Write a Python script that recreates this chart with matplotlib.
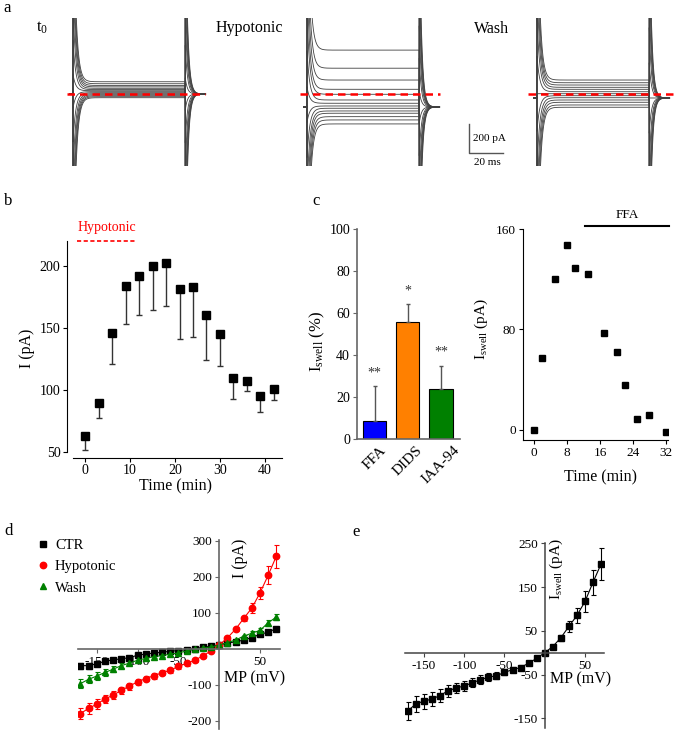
import numpy as np
import matplotlib
matplotlib.use('Agg')
import matplotlib.pyplot as plt
from matplotlib.lines import Line2D

plt.rcParams['font.family'] = ['Liberation Serif', 'DejaVu Serif']
plt.rcParams['mathtext.fontset'] = 'custom'
plt.rcParams['mathtext.rm'] = 'Liberation Serif'
plt.rcParams['mathtext.it'] = 'Liberation Serif:italic'
plt.rcParams['mathtext.bf'] = 'Liberation Serif:bold'
plt.rcParams['axes.unicode_minus'] = False

W, H = 675, 732

# ---------------- data ----------------
# panel a: steady-state current of each sweep (pA, relative to dashed zero line)
t0_levels = [86, 72, 60, 50, 40, 31, 23, 16, 9, 2, -5, -12, -19, -26]
hypo_levels = [308, 181, 98, 33, -2, -42, -65, -84, -100, -119, -135, -159, -182, -210]
wash_levels = [98, 79, 63, 47, 33, 16, 2, -12, -26, -42, -58, -77, -93]
holding_pa = [0, -91, -28]
step_ms = 66
group_titles = ['t$_0$', 'Hypotonic', 'Wash']

# panel b
b_time = [0, 3, 6, 9, 12, 15, 18, 21, 24, 27, 30, 33, 36, 39, 42]
b_current = [63, 89.5, 146, 184, 192, 199.5, 202.5, 181, 183, 160, 145, 110, 107.5, 95.5, 101]
b_err = [11, 12, 25, 31, 32, 35, 35, 40, 40, 36, 26, 17, 8, 13, 9]

# panel c (left)
c_drugs = ['FFA', 'DIDS', 'IAA-94']
c_pct = [8.9, 55.9, 23.8]
c_err = [16.5, 8.5, 11.2]
c_sig = ['**', '*', '**']
c_colors = ['#0000FF', '#FF8000', '#008000']

# panel c (right)
c_time = [0, 2, 5, 8, 10, 13, 17, 20, 22, 25, 28, 32]
c_iswell = [0, 57, 120, 147, 129, 124, 77.5, 62, 36, 9, 12, -2]
ffa_span = [12.4, 32.7]

# panel d
mp = list(range(-170, 71, 10))
ctr = [-47, -47, -42, -35, -31, -28, -25, -18, -15, -12, -10, -7, -5, -3, 0, 4, 7, 10, 16, 19, 24, 31, 40, 46, 56]
ctr_err = [8, 8, 7, 6, 5, 5, 4, 4, 3, 3, 3, 2, 2, 2, 2, 2, 2, 2, 2, 2, 3, 3, 3, 4, 4]
hypo = [-180, -166, -154, -140, -129, -116, -104, -92, -83, -75, -67, -60, -49, -41, -32, -20, -6, 10, 30, 54, 84, 113, 155, 204, 257]
hypo_err = [16, 14, 13, 12, 11, 10, 10, 9, 8, 8, 7, 7, 6, 6, 5, 5, 4, 4, 4, 5, 7, 13, 17, 25, 32]
wash = [-97, -85, -76, -66, -57, -47, -40, -32, -27, -22, -19, -15, -12, -6, -2, 2, 5, 10, 17, 24, 35, 43, 51, 72, 88]
wash_err = [12, 11, 10, 9, 8, 7, 6, 6, 5, 5, 4, 4, 3, 3, 3, 3, 3, 3, 3, 4, 4, 5, 6, 8, 9]

# panel e
iswell = [-133, -117, -111, -106, -98, -87, -81, -76, -69, -62, -56, -53, -45, -39, -34, -24, -13, 0, 14, 34, 60, 85, 117, 161, 203]
iswell_err = [21, 18, 17, 16, 15, 14, 12, 11, 10, 10, 9, 8, 7, 6, 5, 5, 4, 3, 4, 7, 13, 17, 23, 29, 36]

# ---------------- figure ----------------
fig = plt.figure(figsize=(W / 100, H / 100), dpi=100)


def rect(x0, y0, x1, y1):
    return [x0 / W, 1 - y1 / H, (x1 - x0) / W, (y1 - y0) / H]


def ftext(x, y, s, **kw):
    return fig.text(x / W, 1 - y / H, s, **kw)


def style_ticks(ax, size):
    ax.tick_params(labelsize=size, length=3, width=0.8, pad=2)


# panel labels
ftext(3, 12, 'a', fontsize=12, ha='left', va='baseline')
ftext(4, 205, 'b', fontsize=12, ha='left', va='baseline')
ftext(312, 205, 'c', fontsize=12, ha='left', va='baseline')
ftext(4, 535, 'd', fontsize=12, ha='left', va='baseline')
ftext(352, 536, 'e', fontsize=12, ha='left', va='baseline')

# ---------------- panel a ----------------
ms_per_px = 20 / 34.0
pa_per_px = 200 / 28.5
zero_px = 94
onsets_px = [73, 307, 537]
dash_spans = [(-3.5, 77.6), (-4.1, 78.2), (-5.3, 81)]
all_levels = [t0_levels, hypo_levels, wash_levels]
t = np.linspace(-2, step_ms + 12, 4000)
axes_a = []
for k, (levels, onset) in enumerate(zip(all_levels, onsets_px)):
    x0 = onset - 5 / ms_per_px
    x1 = onset + 82 / ms_per_px
    ax = fig.add_axes(rect(x0, 18, x1, 166))
    ax.set_xlim(-5, 82)
    ax.set_ylim(-(166 - zero_px) * pa_per_px, (zero_px - 18) * pa_per_px)
    ax.axis('off')
    n = len(levels)
    h = holding_pa[k]
    for i, L in enumerate(levels):
        A = 3000 * (0.5 - i / (n - 1))
        y = np.where(t < 0, h,
                     np.where(t < step_ms, L + A * np.exp(-np.clip(t, 0, None) / 1.6),
                              h - A * np.exp(-(t - step_ms) / 1.3)))
        ax.plot(t, y, color='#404040', lw=0.6)
    ax.plot(dash_spans[k], [0, 0], color='red', ls=(0, (3, 2)), lw=1.8, zorder=5, clip_on=False)
    axes_a.append(ax)

ftext(36, 32, group_titles[0], fontsize=12, ha='left', va='baseline')
ftext(216, 32, group_titles[1], fontsize=11.5, ha='left', va='baseline')
ftext(474, 33, group_titles[2], fontsize=11.5, ha='left', va='baseline')

# scale bar (in the hypotonic axes, data units ms / pA)
axs = axes_a[1]
sb_x = 95.3
sb_y = -412
axs.plot([sb_x, sb_x, sb_x + 20], [sb_y + 200, sb_y, sb_y], color='#555555', lw=1, clip_on=False)
axs.text(sb_x + 2.5, sb_y + 100, '200 pA', fontsize=8, ha='left', va='center', clip_on=False)
axs.text(sb_x + 11, sb_y - 70, '20 ms', fontsize=8, ha='center', va='center', clip_on=False)

# ---------------- panel b ----------------
ax = fig.add_axes(rect(73, 241, 282, 452))
zeros = [0] * len(b_err)
ax.errorbar(b_time, b_current, yerr=[b_err, zeros], fmt='s', color='black', ms=5.5,
            ecolor='#333333', elinewidth=1, capsize=2, capthick=1)
ax.set_xlim(-2.7, 43.8)
ax.set_ylim(50, 220)
ax.set_xticks([0, 10, 20, 30, 40])
ax.set_yticks([50, 100, 150, 200])
for s in ['top', 'right']:
    ax.spines[s].set_visible(False)
ax.spines['left'].set_position(('outward', 4))
ax.spines['bottom'].set_position(('outward', 4))
style_ticks(ax, 10)
ax.plot([-1.8, 11.6], [220, 220], color='red', ls=(0, (2.5, 1.5)), lw=1.2, clip_on=False)
ax.text(4.9, 231, 'Hypotonic', color='red', fontsize=10, ha='center', va='center')
ftext(27, 348, 'I (pA)', rotation=90, fontsize=11.5, ha='center', va='center')
ftext(176, 486, 'Time (min)', fontsize=11.5, ha='center', va='center')

# ---------------- panel c (left) ----------------
ax = fig.add_axes(rect(357, 229, 460, 439.3))
xpos = np.arange(len(c_drugs))
ax.bar(xpos, c_pct, width=0.7, color=c_colors, edgecolor='black', linewidth=0.8)
ax.errorbar(xpos, c_pct, yerr=[[0] * 3, c_err], fmt='none', ecolor='#555555', elinewidth=1,
            capsize=1.5, capthick=1)
for xi, v, e, s in zip(xpos, c_pct, c_err, c_sig):
    ax.text(xi, v + e + 6.3, s, fontsize=10, ha='center', va='center', color='#333333')
ax.set_xlim(-0.53, 2.57)
ax.set_ylim(0, 100)
ax.set_yticks([0, 20, 40, 60, 80, 100])
ax.set_xticks(xpos)
ax.set_xticklabels(c_drugs, rotation=45, ha='center', va='top', fontsize=11)
for s in ['top', 'right']:
    ax.spines[s].set_visible(False)
for s in ['left', 'bottom']:
    ax.spines[s].set_color('#666666')
    ax.spines[s].set_linewidth(1.2)
ax.tick_params(axis='x', length=0, pad=3)
ax.tick_params(axis='y', labelsize=10, length=3, width=0.8, pad=2, color='#666666')
ftext(317.5, 341.5, r'I$_{\mathrm{swell}}$ (%)', rotation=90, fontsize=12, ha='center', va='center')

# ---------------- panel c (right) ----------------
ax = fig.add_axes(rect(523, 229, 668, 440))
ax.plot(c_time, c_iswell, 's', color='black', ms=4.8)
ax.set_xlim(-2.7, 32.5)
ax.set_ylim(-8, 160)
ax.set_xticks([0, 8, 16, 24, 32])
ax.set_yticks([0, 80, 160])
for s in ['top', 'right']:
    ax.spines[s].set_visible(False)
style_ticks(ax, 9.5)
ax.plot(ffa_span, [162, 162], color='black', lw=1.5, clip_on=False)
ax.text(sum(ffa_span) / 2, 171, 'FFA', fontsize=9.5, ha='center', va='center')
ftext(481, 329, r'I$_{\mathrm{swell}}$ (pA)', rotation=90, fontsize=11, ha='center', va='center')
ftext(601, 477, 'Time (min)', fontsize=11.5, ha='center', va='center')

# ---------------- panel d ----------------
ax = fig.add_axes(rect(78, 540, 280, 729))
series = [(ctr, ctr_err, 's', 'black', 'CTR', 4.2),
          (hypo, hypo_err, 'o', 'red', 'Hypotonic', 4.6),
          (wash, wash_err, '^', 'green', 'Wash', 4.8)]
handles = []
for vals, err, m, c, lab, ms in series:
    ax.errorbar(mp, vals, yerr=err, fmt='-' + m, color=c, ms=ms, lw=0.8, elinewidth=0.8,
                capsize=1.8, capthick=0.8)
    handles.append(Line2D([], [], marker=m, color=c, ls='none', ms=ms))
ax.set_xlim(-172.9, 74.5)
ax.set_ylim(-223, 302)
ax.spines['left'].set_position(('data', 0))
ax.spines['bottom'].set_position(('data', 0))
for s in ['top', 'right']:
    ax.spines[s].set_visible(False)
for s in ['left', 'bottom']:
    ax.spines[s].set_color('#666666')
    ax.spines[s].set_linewidth(1.2)
ax.set_xticks([-150, -100, -50, 50])
ax.set_yticks([-200, -100, 100, 200, 300])
style_ticks(ax, 9.5)
ax.tick_params(color='#666666')
ftext(240, 558.5, 'I (pA)', rotation=90, fontsize=11.5, ha='center', va='center')
ftext(255, 678, 'MP (mV)', fontsize=11.5, ha='center', va='center')
ax.legend(handles, [s[4] for s in series], loc='upper left',
          bbox_to_anchor=(36 / W, 1 - 536 / H), bbox_transform=fig.transFigure,
          frameon=False, fontsize=10.5, handlelength=0.6, handletextpad=0.5,
          labelspacing=0.55, borderpad=0.2, borderaxespad=0)

# ---------------- panel e ----------------
ax = fig.add_axes(rect(405, 543, 604, 728))
ax.errorbar(mp, iswell, yerr=iswell_err, fmt='-s', color='black', ms=3.9, lw=0.8,
            elinewidth=0.8, capsize=1.8, capthick=0.8)
ax.set_xlim(-173.6, 73.6)
ax.set_ylim(-172.3, 250.7)
ax.spines['left'].set_position(('data', 0))
ax.spines['bottom'].set_position(('data', 0))
for s in ['top', 'right']:
    ax.spines[s].set_visible(False)
for s in ['left', 'bottom']:
    ax.spines[s].set_color('#444444')
    ax.spines[s].set_linewidth(1.1)
ax.set_xticks([-150, -100, -50, 50])
ax.set_yticks([-150, -50, 50, 150, 250])
style_ticks(ax, 9.5)
ax.tick_params(color='#444444')
ftext(556, 569, r'I$_{\mathrm{swell}}$ (pA)', rotation=90, fontsize=11, ha='center', va='center')
ftext(581, 679, 'MP (mV)', fontsize=11.5, ha='center', va='center')

fig.savefig('out.png', dpi=100)
